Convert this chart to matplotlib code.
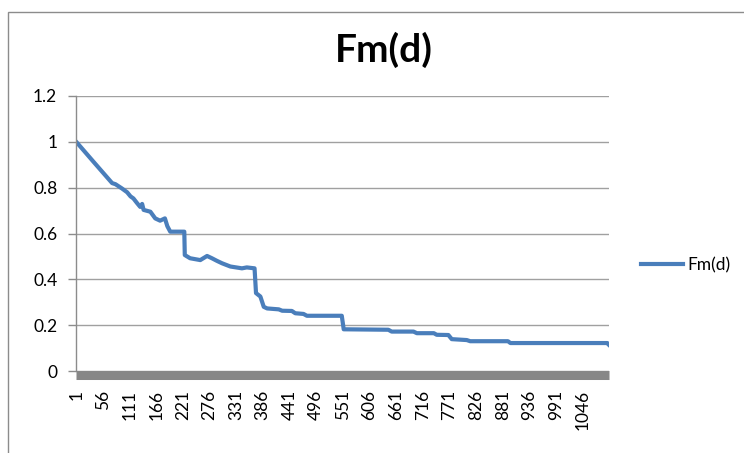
import matplotlib.pyplot as plt
from matplotlib.patches import Rectangle

# Fm(d): category index -> value (steps drawn as near-vertical drops)
idx = [1, 37, 75, 82, 95, 106, 113, 119, 126, 133, 137, 140, 154, 164, 174, 184,
       189, 195, 224, 225, 236, 257, 271, 281, 291, 302, 319, 343, 353, 369, 372,
       381, 388, 395, 419, 426, 446, 453, 470, 477, 549, 553, 645, 652, 697, 704,
       739, 745, 769, 776, 807, 814, 892, 897, 1097, 1100]
fm = [1.0, 0.912, 0.82, 0.815, 0.797, 0.78, 0.762, 0.753, 0.734, 0.716, 0.729,
      0.703, 0.695, 0.666, 0.656, 0.666, 0.632, 0.608, 0.608, 0.506, 0.492, 0.484,
      0.502, 0.492, 0.481, 0.47, 0.456, 0.448, 0.452, 0.448, 0.34, 0.325, 0.28,
      0.273, 0.269, 0.263, 0.262, 0.252, 0.249, 0.241, 0.241, 0.182, 0.18, 0.172,
      0.172, 0.165, 0.165, 0.158, 0.157, 0.139, 0.135, 0.13, 0.13, 0.122, 0.122,
      0.115]
n_cat = 1100
xtick_labels = list(range(1, 1047, 55))
yticks = [0, 0.2, 0.4, 0.6, 0.8, 1, 1.2]
ytick_labels = ['0', '0.2', '0.4', '0.6', '0.8', '1', '1.2']

plt.rcParams['font.family'] = ['Lato', 'DejaVu Sans']

fig = plt.figure(figsize=(7.44, 4.53), dpi=100)
W, H = 744, 453

# chart-area border (extends past the image right/bottom)
fig.patches.append(Rectangle((8 / W, -0.1), 1.2, 1 - 12 / H + 0.1,
                             transform=fig.transFigure, fill=False,
                             edgecolor='#8c8c8c', linewidth=1.0))

ax = fig.add_axes([76 / W, 1 - 371 / H, (609 - 76) / W, 275 / H])
ax.plot(idx, fm, color='#4A7EBB', linewidth=3.0, solid_joinstyle='round',
        label='Fm(d)')

ax.set_xlim(0.5, n_cat + 0.5)
ax.set_ylim(0, 1.2)
ax.set_yticks(yticks)
ax.set_yticklabels(ytick_labels)
ax.set_xticks(xtick_labels)
ax.set_xticklabels([str(v) for v in xtick_labels])

ax.grid(axis='y', color='#a0a0a0', linewidth=1.0)
ax.set_axisbelow(True)
for s in ['top', 'right']:
    ax.spines[s].set_visible(False)
ax.spines['left'].set_color('#8c8c8c')
ax.spines['left'].set_linewidth(1.0)
ax.spines['bottom'].set_color('#878787')
ax.spines['bottom'].set_linewidth(6.5)
ax.spines['bottom'].set_position(('outward', 3.2))
ax.spines['bottom'].set_capstyle('butt')

ax.tick_params(axis='y', length=5.5, width=1.0, color='#8c8c8c', pad=8,
               labelsize=12.5, labelcolor='black')
ax.tick_params(axis='x', length=0, pad=10.5, labelsize=12.5, labelcolor='black',
               labelrotation=90)

fig.text(384 / W, 1 - 50 / H, 'Fm(d)', ha='center', va='center',
         fontsize=28, fontweight='bold')

ax.legend(loc='center left', bbox_to_anchor=(641 / W, 1 - 265 / H),
          bbox_transform=fig.transFigure, frameon=False, fontsize=12.5,
          handlelength=2.4, handletextpad=0.25, borderpad=0, borderaxespad=0)

fig.savefig('out.png', dpi=100)
